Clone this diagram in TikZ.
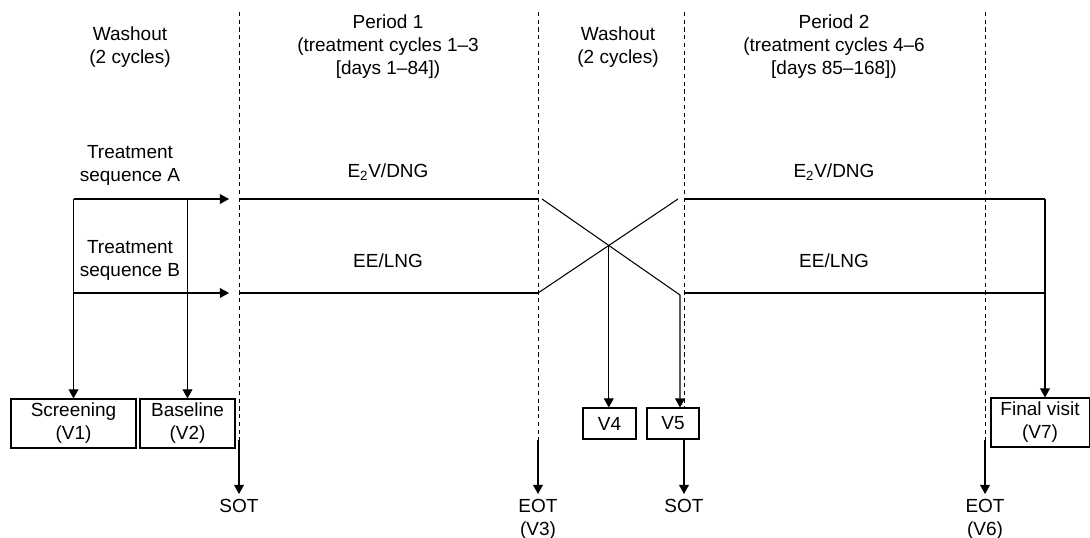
\documentclass[tikz,border=0pt]{standalone}
\usepackage{fontspec}
\setmainfont{Liberation Sans}
\usetikzlibrary{positioning,arrows.meta}

\tikzset{
    txt/.style={align=center},
    visitbox/.style={draw, align=center, inner sep=0pt, minimum height=1.225cm},
    period/.style={line width=2pt},
    phase/.style={dash pattern=on 3pt off 2.5pt, line width=0.65pt}
}

\begin{document}
\begin{tikzpicture}[x=0.025cm, y=-0.025cm, line width=0.75pt,
    font=\fontsize{13.5}{16.3}\selectfont, >={Triangle[length=6.5pt,width=7pt]}]
    \useasboundingbox (0,0) rectangle (1090,538);

    % Headings
    \node[txt] (wash1) at (130,47) {Washout\\(2 cycles)};
    \node[txt] (per1) at (388,47) {Period 1\\(treatment cycles 1--3\\{[}days 1--84])};
    \node[txt] (wash2) at (618,47) {Washout\\(2 cycles)};
    \node[txt] (per2) at (834,47) {Period 2\\(treatment cycles 4--6\\{[}days 85--168])};
    \node[txt] (seqA) at (130,165) {Treatment\\sequence A};
    \node[txt] (seqB) at (130,260) {Treatment\\sequence B};

    % Treatments
    \node (drugA1) at (388,172) {E\textsubscript{2}V/DNG};
    \node (drugB1) at (388,261) {EE/LNG};
    \node (drugA2) at (834,172) {E\textsubscript{2}V/DNG};
    \node (drugB2) at (834,261) {EE/LNG};

    % Visits
    \node[visitbox, minimum width=3.125cm] (scr) at (73.5,423.5) {Screening\\(V1)};
    \node[visitbox, minimum width=2.375cm] (base) at (187.5,423.5) {Baseline\\(V2)};
    \node[visitbox, minimum width=1.325cm, minimum height=0.775cm] (v4) at (609.5,423.5) {V4};
    \node[visitbox, minimum width=1.3cm, minimum height=0.775cm] (v5) at (673,423.5) {V5};
    \node[visitbox, minimum width=2.45cm] (fin) at (1040,422.5) {Final visit\\(V7)};

    \node[txt, anchor=north] (sot1) at (239,494) {SOT};
    \node[txt, anchor=north] (eot1) at (538,494) {EOT\\(V3)};
    \node[txt, anchor=north] (sot2) at (684,494) {SOT};
    \node[txt, anchor=north] (eot2) at (985,494) {EOT\\(V6)};

    % Phase borders
    \coordinate (cut) at (0,440);
    \coordinate (s1) at (239,12);
    \coordinate (e1) at (538,12);
    \coordinate (s2) at (684,12);
    \coordinate (e2) at (985,12);
    \draw[phase] (s1) -- (s1 |- cut);
    \draw[phase] (e1) -- (e1 |- cut);
    \draw[phase] (s2) -- (s2 |- v5.north);
    \draw[phase] (e2) -- (e2 |- cut);
    \draw[->] (s1 |- cut) -- (sot1.north);
    \draw[->] (e1 |- cut) -- (eot1.north);
    \draw[->] (v5.south -| s2) -- (sot2.north);
    \draw[->] (e2 |- cut) -- (eot2.north);

    % Treatment periods
    \coordinate (a1s) at (239,199);
    \coordinate (a1e) at (538,199);
    \coordinate (b1s) at (239,293);
    \coordinate (b1e) at (538,293);
    \coordinate (a2s) at (684,199);
    \coordinate (a2e) at (985,199);
    \coordinate (b2s) at (684,293);
    \coordinate (b2e) at (985,293);
    \draw[period] (a1s) -- (a1e);
    \draw[period] (b1s) -- (b1e);
    \draw[period] (a2s) -- (a2e);
    \draw[period] (b2s) -- (b2e);

    % Randomisation
    \coordinate (inA) at (229,199);
    \coordinate (inB) at (229,293);
    \draw[->] (scr.north |- inA) -- (inA);
    \draw[->] (scr.north |- inB) -- (inB);
    \draw[->] (scr.north |- inA) -- (scr.north);
    \draw[->] (base.north |- inA) -- (base.north);

    % Crossover
    \coordinate (xa) at (542,199);
    \coordinate (xb) at (680,295);
    \coordinate (xc) at (678,199);
    \coordinate (mid) at (intersection of xa--xb and b1e--xc);
    \draw[->] (xa) -- (xb) -- (xb |- v5.north);
    \draw (b1e) -- (xc);
    \draw[->] (mid) -- (mid |- v4.north);

    % Follow-up
    \coordinate (fa) at (1045,199);
    \draw (a2e) -- (fa);
    \draw (b2e) -- (fa |- b2e);
    \draw[->] (fa) -- (fa |- fin.north);
\end{tikzpicture}
\end{document}
